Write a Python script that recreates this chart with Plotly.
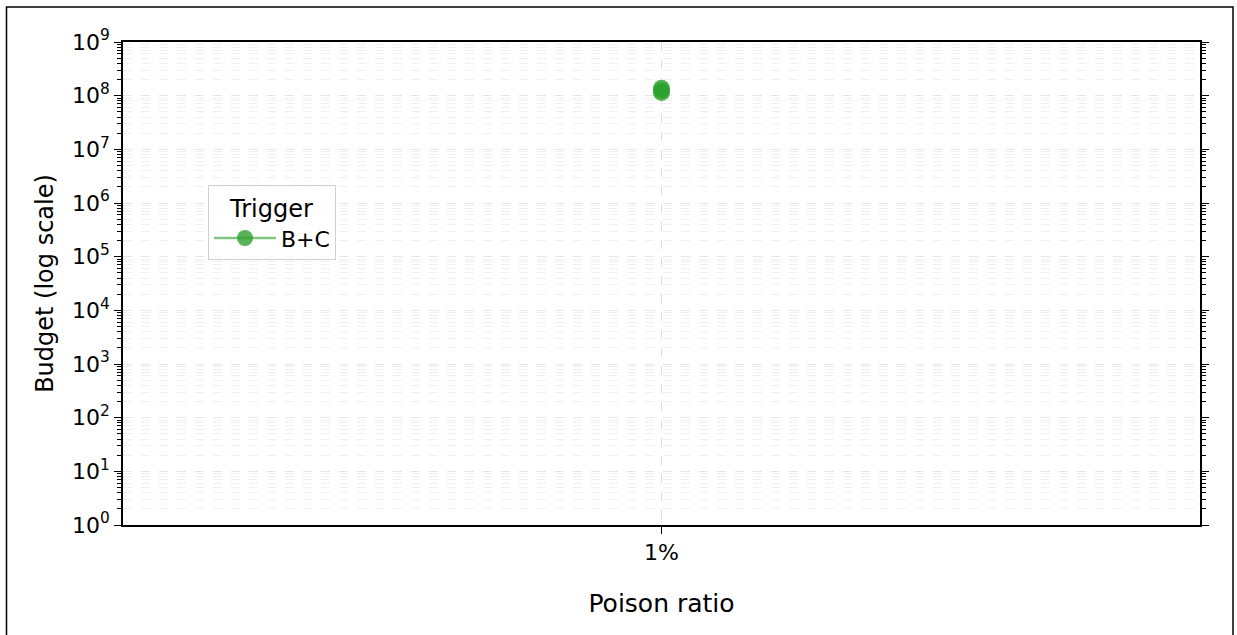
import plotly.graph_objects as go

# Data
poison_ratio = ["1%", "1%", "1%"]
budget = [1.15e8, 1.25e8, 1.38e8]
trigger_name = "B+C"

# Log-axis tick labels
decades = list(range(0, 10))
tick_values = [10 ** d for d in decades]
tick_labels = [f"10<sup>{d}</sup>" for d in decades]
minor_values = [m * 10 ** d for d in range(0, 9) for m in range(2, 10)]

FONT = "DejaVu Sans"
GREEN = "rgba(44,160,44,0.8)"

fig = go.Figure()
fig.add_trace(go.Scatter(
    x=poison_ratio,
    y=budget,
    mode="lines+markers",
    name=trigger_name,
    line=dict(color="rgba(44,160,44,0.6)", width=2.5),
    marker=dict(color=GREEN, size=17, line=dict(width=0)),
))

W, H = 1237, 635
L, R, T, B = 123, 37, 42, 110
pw, ph = W - L - R, H - T - B

def px_x(x):
    return (x - L) / pw

def px_y(y):
    return (H - B - y) / ph

fig.update_layout(
    width=W, height=H,
    margin=dict(l=L, r=R, t=T, b=B),
    paper_bgcolor="white",
    plot_bgcolor="white",
    font=dict(family=FONT, size=22, color="black"),
    showlegend=True,
    legend=dict(
        x=px_x(208), y=px_y(185), xanchor="left", yanchor="top",
        bgcolor="rgba(255,255,255,0.8)",
        bordercolor="#d0d0d0", borderwidth=1,
        itemwidth=62,
        title=dict(text="Trigger", side="top center", font=dict(size=24)),
        font=dict(size=22),
    ),
    xaxis=dict(
        type="category",
        range=[-1, 1],
        title=dict(text="Poison ratio", font=dict(size=25), standoff=30),
        showline=True, linecolor="black", linewidth=1.5, mirror=True,
        ticks="outside", ticklen=7, tickwidth=1.2, tickcolor="black",
        showgrid=True, gridcolor="#dcdcdc", griddash="dash", gridwidth=1,
        zeroline=False,
        tickfont=dict(size=22),
    ),
    yaxis=dict(
        type="log",
        range=[0, 9],
        title=dict(text="Budget (log scale)", font=dict(size=24), standoff=12),
        showline=True, linecolor="black", linewidth=1.5, mirror="ticks",
        tickmode="array", tickvals=tick_values, ticktext=tick_labels,
        ticks="outside", ticklen=7, tickwidth=1.2, tickcolor="black",
        showgrid=True, gridcolor="#e6e6e6", griddash="dash", gridwidth=1,
        zeroline=False,
        tickfont=dict(size=22),
        minor=dict(
            tickmode="array", tickvals=minor_values,
            ticks="outside", ticklen=4, tickwidth=1, tickcolor="black",
            showgrid=True, gridcolor="#f0f0f0", griddash="dash", gridwidth=1,
        ),
    ),
    shapes=[dict(
        type="rect", xref="paper", yref="paper",
        x0=px_x(6.5), x1=px_x(1233), y0=px_y(645), y1=px_y(7),
        line=dict(color="black", width=1.5), fillcolor="rgba(0,0,0,0)",
        layer="below",
    )],
)

fig.write_html("out.html")
